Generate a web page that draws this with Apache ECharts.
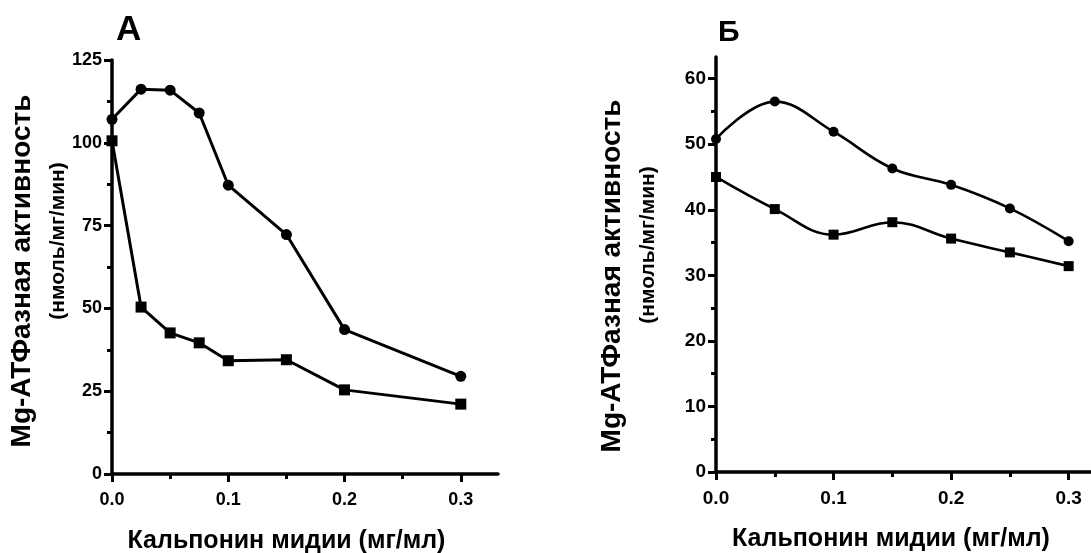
<!DOCTYPE html>
<html>
<head>
<meta charset="utf-8">
<script src="https://cdn.jsdelivr.net/npm/echarts@6/dist/echarts.min.js"></script>
<style>
  html, body { margin: 0; padding: 0; background: #fff; }
  #chart { width: 1091px; height: 553px; }
</style>
</head>
<body>
<div id="chart"></div>
<script>
// панель А: концентрация кальпонина и активность
const xA = [0, 0.025, 0.05, 0.075, 0.1, 0.15, 0.2, 0.3];
const circlesA = [107.1, 116.2, 115.9, 109.0, 87.2, 72.3, 43.6, 29.5];
const squaresA = [100.6, 50.4, 42.6, 39.6, 34.2, 34.5, 25.4, 21.1];

// панель Б
const xB = [0, 0.05, 0.1, 0.15, 0.2, 0.25, 0.3];
const circlesB = [50.8, 56.5, 51.9, 46.3, 43.8, 40.2, 35.2];
const squaresB = [45.0, 40.1, 36.2, 38.1, 35.6, 33.5, 31.4];

// подписи осей
const xTicks = [0, 0.1, 0.2, 0.3];
const xMinor = [0.05, 0.15, 0.25];
const yTicksA = [0, 25, 50, 75, 100, 125];
const yMinorA = [12.5, 37.5, 62.5, 87.5, 112.5];
const yTicksB = [0, 10, 20, 30, 40, 50, 60];
const yMinorB = [5, 15, 25, 35, 45, 55];

const xTitle = 'Кальпонин мидии (мг/мл)';
const yTitle1 = 'Mg-АТФазная активность';
const yTitle2 = '(нмоль/мг/мин)';

const FONT = '"Liberation Sans", Arial, sans-serif';

function pairs(xs, ys) {
    return xs.map((x, i) => [x, ys[i]]);
}

function majorAxis(grid, pos, max, ticks, fmt, size, extra) {
    return Object.assign({
        type: 'value', gridIndex: grid, position: pos, min: 0, max: max,
        axisLine: {onZero: false, lineStyle: {color: '#000', width: 3.5}},
        axisTick: {customValues: ticks, length: 8, lineStyle: {color: '#000', width: 3}},
        axisLabel: {customValues: ticks, formatter: fmt, color: '#000', fontFamily: FONT,
            fontWeight: 'bold', fontSize: size, margin: pos === 'bottom' ? 17 : 10},
        splitLine: {show: false}
    }, extra || {});
}

function minorAxis(grid, pos, max, ticks) {
    return {
        type: 'value', gridIndex: grid, position: pos, min: 0, max: max,
        axisLine: {show: false, onZero: false},
        axisTick: {customValues: ticks, length: 5, lineStyle: {color: '#000', width: 3}},
        axisLabel: {show: false},
        splitLine: {show: false}
    };
}

const fmtX = v => v.toFixed(1);
const fmtY = v => String(v);

function xName(pad) {
    return {
        name: xTitle, nameLocation: 'middle', nameGap: 55,
        nameTextStyle: {color: '#000', fontFamily: FONT, fontWeight: 'bold', fontSize: 25, padding: pad}
    };
}

const option = {
    backgroundColor: '#fff',
    animation: false,
    title: [
        {text: 'А', left: 111, top: 8, textStyle: {fontFamily: FONT, fontWeight: 'bold', fontSize: 35, color: '#000'}},
        {text: 'Б', left: 713, top: 13, textStyle: {fontFamily: FONT, fontWeight: 'bold', fontSize: 30, color: '#000'}}
    ],
    grid: [
        {left: 112, top: 60, width: 386, height: 414, outerBoundsMode: 'none'},
        {left: 716, top: 57, width: 375, height: 415, outerBoundsMode: 'none'}
    ],
    xAxis: [
        majorAxis(0, 'bottom', 0.332, xTicks, fmtX, 18, xName([0, 37, 0, 0])),
        minorAxis(0, 'bottom', 0.332, xMinor),
        majorAxis(1, 'bottom', 0.319, xTicks, fmtX, 19, xName([0, 25, 0, 0])),
        minorAxis(1, 'bottom', 0.319, xMinor)
    ],
    yAxis: [
        majorAxis(0, 'left', 125, yTicksA, fmtY, 18),
        minorAxis(0, 'left', 125, yMinorA),
        majorAxis(1, 'left', 63.3, yTicksB, fmtY, 19),
        minorAxis(1, 'left', 63.3, yMinorB)
    ],
    graphic: [
        {type: 'text', x: 22, y: 271, rotation: Math.PI / 2,
            style: {text: yTitle1, font: 'bold 28px ' + FONT, fill: '#000', align: 'center', verticalAlign: 'middle'}},
        {type: 'text', x: 58, y: 241, rotation: Math.PI / 2,
            style: {text: yTitle2, font: 'bold 21px ' + FONT, fill: '#000', align: 'center', verticalAlign: 'middle'}},
        {type: 'text', x: 612, y: 276, rotation: Math.PI / 2,
            style: {text: yTitle1, font: 'bold 28px ' + FONT, fill: '#000', align: 'center', verticalAlign: 'middle'}},
        {type: 'text', x: 648, y: 245, rotation: Math.PI / 2,
            style: {text: yTitle2, font: 'bold 21px ' + FONT, fill: '#000', align: 'center', verticalAlign: 'middle'}}
    ],
    series: [
        {type: 'line', xAxisIndex: 0, yAxisIndex: 0, data: pairs(xA, circlesA), symbol: 'circle', symbolSize: 11,
            lineStyle: {color: '#000', width: 3}, itemStyle: {color: '#000'}, clip: false},
        {type: 'line', xAxisIndex: 0, yAxisIndex: 0, data: pairs(xA, squaresA), symbol: 'rect', symbolSize: 11,
            lineStyle: {color: '#000', width: 3}, itemStyle: {color: '#000'}, clip: false},
        {type: 'line', xAxisIndex: 2, yAxisIndex: 2, data: pairs(xB, circlesB), symbol: 'circle', symbolSize: 10,
            smooth: 0.4, lineStyle: {color: '#000', width: 2.6}, itemStyle: {color: '#000'}, clip: false},
        {type: 'line', xAxisIndex: 2, yAxisIndex: 2, data: pairs(xB, squaresB), symbol: 'rect', symbolSize: 10,
            smooth: 0.4, lineStyle: {color: '#000', width: 2.6}, itemStyle: {color: '#000'}, clip: false}
    ]
};

const chart = echarts.init(document.getElementById('chart'));
chart.setOption(option);
</script>
</body>
</html>
